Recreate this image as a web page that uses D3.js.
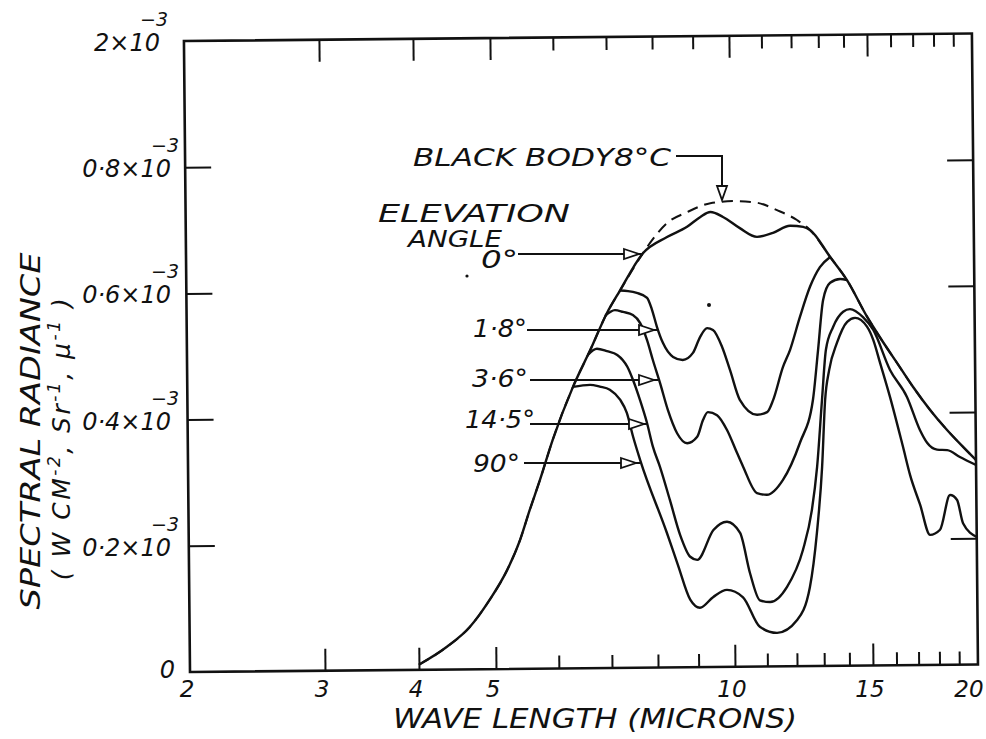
<!DOCTYPE html>
<html>
<head>
<meta charset="utf-8">
<script src="https://cdn.jsdelivr.net/npm/d3@7"></script>
<style>
body { margin: 0; background: #fff; }
svg text { font-family: "DejaVu Sans", sans-serif; font-style: oblique; fill: #111; }
</style>
</head>
<body>
<script>
// wave length (microns) and spectral radiance (x 10^-3 W cm^-2 sr^-1 micron^-1)
var wlBlackBody = [4.0, 4.34, 4.64, 4.92, 5.18, 5.38, 5.54, 5.71, 5.93, 6.30, 6.63, 6.97, 7.24, 7.75, 7.91, 8.31, 8.81, 9.43, 10.07, 10.81, 11.46, 12.15, 12.62, 13.38, 14.05, 14.9, 15.42, 16.15, 16.86, 17.66, 18.49, 19.31, 20];
var blackBody   = [0.008, 0.036, 0.067, 0.110, 0.157, 0.204, 0.252, 0.299, 0.362, 0.446, 0.504, 0.563, 0.598, 0.657, 0.673, 0.704, 0.721, 0.735, 0.738, 0.735, 0.723, 0.707, 0.691, 0.648, 0.611, 0.552, 0.520, 0.479, 0.441, 0.404, 0.372, 0.345, 0.324];

var wlElev0 = [4.0, 4.34, 4.64, 4.92, 5.18, 5.38, 5.54, 5.71, 5.93, 6.30, 6.63, 6.97, 7.24, 7.75, 8.31, 8.81, 9.15, 9.43, 9.78, 10.27, 10.80, 11.32, 11.90, 12.37, 12.62, 13.38, 14.05, 14.9, 15.42, 16.15, 16.86, 17.66, 18.49, 19.31, 20];
var elev0   = [0.008, 0.036, 0.067, 0.110, 0.157, 0.204, 0.252, 0.299, 0.362, 0.446, 0.504, 0.563, 0.598, 0.657, 0.682, 0.698, 0.713, 0.721, 0.713, 0.695, 0.681, 0.687, 0.698, 0.696, 0.691, 0.648, 0.611, 0.552, 0.520, 0.479, 0.441, 0.404, 0.372, 0.345, 0.324];

var wlElev18 = [7.24, 7.41, 7.60, 7.83, 7.94, 8.05, 8.19, 8.43, 8.67, 8.93, 9.12, 9.31, 9.47, 9.72, 9.94, 10.22, 10.75, 11.07, 11.27, 11.61, 11.86, 12.22, 12.60, 12.98, 13.38];
var elev18   = [0.598, 0.597, 0.594, 0.586, 0.567, 0.540, 0.514, 0.492, 0.487, 0.498, 0.523, 0.537, 0.534, 0.507, 0.470, 0.423, 0.399, 0.403, 0.422, 0.474, 0.501, 0.553, 0.601, 0.632, 0.648];

var wlElev36 = [6.93, 7.13, 7.30, 7.51, 7.67, 7.82, 7.95, 8.11, 8.29, 8.51, 8.76, 9.02, 9.18, 9.31, 9.56, 9.84, 10.12, 10.30, 10.72, 11.04, 11.57, 12.18, 12.67, 12.88, 13.09, 13.37, 13.77, 14.05];
var elev36   = [0.558, 0.567, 0.564, 0.559, 0.546, 0.519, 0.487, 0.451, 0.408, 0.371, 0.355, 0.365, 0.392, 0.404, 0.399, 0.375, 0.339, 0.317, 0.275, 0.272, 0.295, 0.354, 0.422, 0.501, 0.580, 0.607, 0.613, 0.611];

var wlElev145 = [6.59, 6.76, 6.96, 7.17, 7.38, 7.50, 7.65, 7.80, 7.93, 8.09, 8.32, 8.56, 8.81, 8.99, 9.43, 9.81, 10.19, 10.48, 10.78, 11.11, 11.68, 12.25, 12.59, 12.80, 13.01, 13.18, 13.47, 13.88, 14.16, 14.71, 15.14, 15.84, 16.58, 17.17, 17.50, 17.98, 18.49, 19.14, 20];
var elev145   = [0.497, 0.506, 0.502, 0.496, 0.477, 0.456, 0.424, 0.388, 0.350, 0.318, 0.265, 0.210, 0.175, 0.170, 0.217, 0.230, 0.212, 0.148, 0.105, 0.102, 0.126, 0.184, 0.247, 0.315, 0.421, 0.501, 0.537, 0.561, 0.565, 0.552, 0.532, 0.468, 0.425, 0.372, 0.352, 0.341, 0.340, 0.329, 0.316];

var wlElev90 = [6.30, 6.62, 6.81, 7.01, 7.22, 7.36, 7.49, 7.64, 8.24, 8.50, 8.80, 9.05, 9.41, 9.79, 10.26, 10.77, 11.33, 12.02, 12.49, 12.77, 12.99, 13.13, 13.30, 13.62, 14.04, 14.37, 14.88, 15.14, 15.42, 15.83, 16.38, 16.69, 17.14, 17.60, 18.09, 18.61, 18.97, 19.27, 20];
var elev90   = [0.446, 0.449, 0.446, 0.441, 0.425, 0.404, 0.366, 0.329, 0.213, 0.162, 0.107, 0.094, 0.111, 0.122, 0.110, 0.063, 0.053, 0.073, 0.125, 0.211, 0.315, 0.421, 0.469, 0.512, 0.545, 0.551, 0.537, 0.516, 0.479, 0.425, 0.346, 0.301, 0.254, 0.206, 0.214, 0.269, 0.261, 0.224, 0.202];

// axis ticks and labels
var xMinorTicks = [6, 7, 8, 9, 11, 12, 13, 14, 16, 17, 18, 19];
var xMajorTicks = [3, 4, 5, 10, 15];
var xLabelValues = [2, 3, 4, 5, 10, 15, 20];
var yTicks = [0.2, 0.4, 0.6, 0.8];
var yLabelValues = [0, 0.2, 0.4, 0.6, 0.8, 1.0];
var yLabelText = ["0", "0·2×10", "0·4×10", "0·6×10", "0·8×10", "2×10"];

// curve labels (elevation angles)
var angleLabels = ["0°", "1·8°", "3·6°", "14·5°", "90°"];

var W = 986, H = 739;
var plotL = 190, plotR = 978, plotT = 41, plotB = 672;

var svg = d3.select("body").append("svg")
    .attr("width", W).attr("height", H);

// hand drawn log axis, slightly uneven spacing
var x = d3.scaleLog()
    .domain([2, 3, 4, 5, 10, 15, 20])
    .range([plotL, 325, 419, 496, 735, 873, plotR]);
var y = d3.scaleLinear().domain([0, 1]).range([plotB, plotT]);

// the paper is a little tilted
var plot = svg.append("g").attr("transform", "rotate(-0.55," + plotL + "," + plotB + ")");

plot.append("rect")
    .attr("x", plotL).attr("y", plotT)
    .attr("width", plotR - plotL).attr("height", plotB - plotT)
    .attr("fill", "none").attr("stroke", "#111").attr("stroke-width", 2.6);

function ticks(axis, tr) {
  var a = plot.append("g").attr("transform", tr).call(axis);
  a.select(".domain").remove();
  a.selectAll(".tick line").attr("stroke", "#111").attr("stroke-width", 2);
  a.selectAll(".tick text").remove();
}
ticks(d3.axisBottom(x).tickValues(xMinorTicks).tickSize(-13), "translate(0," + plotB + ")");
ticks(d3.axisBottom(x).tickValues(xMajorTicks).tickSize(-22), "translate(0," + plotB + ")");
ticks(d3.axisTop(x).tickValues(xMinorTicks).tickSize(-13), "translate(0," + plotT + ")");
ticks(d3.axisTop(x).tickValues(xMajorTicks).tickSize(-22), "translate(0," + plotT + ")");
ticks(d3.axisLeft(y).tickValues(yTicks).tickSize(-26), "translate(" + plotL + ",0)");
ticks(d3.axisRight(y).tickValues(yTicks).tickSize(-26), "translate(" + plotR + ",0)");

var line = d3.line()
    .x(function(d) { return x(d[0]); })
    .y(function(d) { return y(d[1]); })
    .curve(d3.curveMonotoneX);

plot.append("path")
    .datum(d3.zip(wlBlackBody, blackBody))
    .attr("d", line)
    .attr("fill", "none").attr("stroke", "#111").attr("stroke-width", 2)
    .attr("stroke-dasharray", "11,7");

var series = [
  [wlElev0, elev0], [wlElev18, elev18], [wlElev36, elev36],
  [wlElev145, elev145], [wlElev90, elev90]
];
plot.selectAll("path.curve")
    .data(series)
    .enter().append("path")
    .attr("class", "curve")
    .attr("d", function(s) { return line(d3.zip(s[0], s[1])); })
    .attr("fill", "none").attr("stroke", "#111")
    .attr("stroke-width", 2.4).attr("stroke-linejoin", "round");

// tick labels
var labels = svg.append("g");
labels.selectAll("text.xl")
    .data(xLabelValues)
    .enter().append("text")
    .attr("x", function(d) { return d === 20 ? 969 : x(d) - 3; })
    .attr("y", 697)
    .attr("text-anchor", "middle")
    .attr("font-size", 23)
    .text(function(d) { return d; });

// y labels, the "-3" exponent sits over the end of the "10"
var yl = labels.selectAll("text.yl")
    .data(yLabelValues)
    .enter().append("text")
    .attr("class", "yl")
    .attr("x", function(d) { return d === 0 ? 175 : (d === 1 ? 168 : 179); })
    .attr("y", function(d) { return y(d) + (d === 0 ? 6 : 10); })
    .attr("text-anchor", "end")
    .attr("font-size", 24);
yl.append("tspan").text(function(d, i) { return yLabelText[i]; });
yl.filter(function(d) { return d > 0; })
    .append("tspan")
    .attr("dx", -20).attr("dy", -25)
    .attr("font-size", 19)
    .text("−3");

// axis titles
svg.append("text")
    .attr("x", 393).attr("y", 728)
    .attr("font-size", 26)
    .attr("textLength", 404).attr("lengthAdjust", "spacingAndGlyphs")
    .text("WAVE LENGTH (MICRONS)");

svg.append("text")
    .attr("transform", "translate(40,431) rotate(-90)")
    .attr("text-anchor", "middle")
    .attr("font-size", 26)
    .attr("textLength", 357).attr("lengthAdjust", "spacingAndGlyphs")
    .text("SPECTRAL  RADIANCE");

var unit = svg.append("text")
    .attr("transform", "translate(70,438) rotate(-90)")
    .attr("text-anchor", "middle")
    .attr("font-size", 25)
    .attr("letter-spacing", 2.5);
unit.append("tspan").text("( W CM");
unit.append("tspan").attr("dy", -10).attr("font-size", 17).text("-2");
unit.append("tspan").attr("dy", 10).text(", Sr");
unit.append("tspan").attr("dy", -10).attr("font-size", 17).text("-1");
unit.append("tspan").attr("dy", 10).text(", μ");
unit.append("tspan").attr("dy", -10).attr("font-size", 17).text("-1");
unit.append("tspan").attr("dy", 10).text(" )");

// annotations
var ink = "#111";
svg.append("text").attr("x", 413).attr("y", 166).attr("font-size", 24)
    .attr("textLength", 258).attr("lengthAdjust", "spacingAndGlyphs")
    .text("BLACK BODY8°C");
svg.append("path")
    .attr("d", "M676,156 L722,156 L722,188")
    .attr("fill", "none").attr("stroke", ink).attr("stroke-width", 2);
svg.append("path")
    .attr("d", "M717,186 L727,186 L722,200 Z")
    .attr("fill", "#fff").attr("stroke", ink).attr("stroke-width", 1.8);

svg.append("text").attr("x", 378).attr("y", 222).attr("font-size", 24)
    .attr("textLength", 192).attr("lengthAdjust", "spacingAndGlyphs")
    .text("ELEVATION");
svg.append("text").attr("x", 408).attr("y", 247).attr("font-size", 23)
    .attr("textLength", 94).attr("lengthAdjust", "spacingAndGlyphs")
    .text("ANGLE");

var leaders = [
  { tx: 481, ty: 268, len: 37, x1: 518, x2: 643, yy: 254 },
  { tx: 473, ty: 337, len: 54, x1: 527, x2: 658, yy: 330 },
  { tx: 472, ty: 387, len: 56, x1: 530, x2: 658, yy: 380 },
  { tx: 465, ty: 428, len: 70, x1: 530, x2: 648, yy: 424 },
  { tx: 473, ty: 472, len: 47, x1: 524, x2: 640, yy: 463 }
];
leaders.forEach(function(l, i) {
  svg.append("text").attr("x", l.tx).attr("y", l.ty).attr("font-size", 24)
      .attr("textLength", l.len).attr("lengthAdjust", "spacingAndGlyphs")
      .text(angleLabels[i]);
  svg.append("line").attr("x1", l.x1).attr("x2", l.x2).attr("y1", l.yy).attr("y2", l.yy)
      .attr("stroke", ink).attr("stroke-width", 2);
  svg.append("path")
      .attr("d", "M" + (l.x2 - 19) + "," + (l.yy - 5) + " L" + (l.x2 - 4) + "," + l.yy +
                 " L" + (l.x2 - 19) + "," + (l.yy + 5) + " Z")
      .attr("fill", "#fff").attr("stroke", ink).attr("stroke-width", 1.8);
});

// specks on the original sheet
svg.append("circle").attr("cx", 467).attr("cy", 276).attr("r", 1.6).attr("fill", ink);
svg.append("circle").attr("cx", 709).attr("cy", 305).attr("r", 2).attr("fill", ink);
</script>
</body>
</html>
